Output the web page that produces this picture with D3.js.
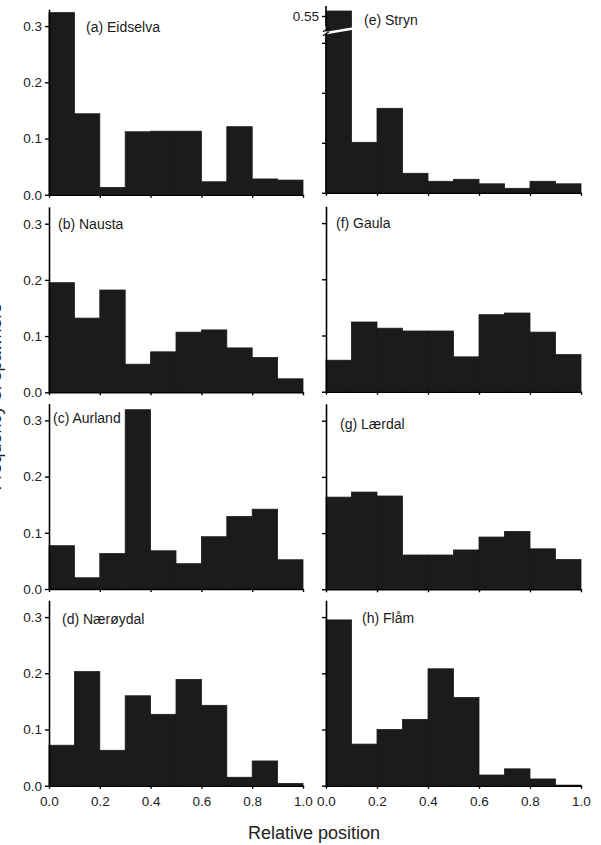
<!DOCTYPE html>
<html><head><meta charset="utf-8">
<script src="https://cdn.jsdelivr.net/npm/d3@7"></script>
<style>
html,body{margin:0;padding:0;background:#fff;}
svg{display:block;font-family:"Liberation Sans",Arial,sans-serif;}
</style></head>
<body>
<svg id="chart" width="601" height="845"></svg>
<script>
// ---- data ----
const binStarts = [0.0,0.1,0.2,0.3,0.4,0.5,0.6,0.7,0.8,0.9];
const binWidth = 0.1;
const panelNames = ["(a) Eidselva","(b) Nausta","(c) Aurland","(d) Nærøydal","(e) Stryn","(f) Gaula","(g) Lærdal","(h) Flåm"];
const eidselva  = [0.324,0.144,0.013,0.112,0.113,0.113,0.023,0.121,0.028,0.026];
const nausta    = [0.195,0.132,0.182,0.050,0.072,0.107,0.111,0.079,0.062,0.024];
const aurland   = [0.077,0.020,0.063,0.319,0.068,0.045,0.093,0.129,0.142,0.052];
const naeroydal = [0.072,0.203,0.063,0.160,0.127,0.189,0.143,0.015,0.044,0.004];
const stryn     = [0.56,0.101,0.169,0.039,0.023,0.027,0.018,0.009,0.023,0.018];
const gaula     = [0.056,0.124,0.113,0.108,0.108,0.062,0.137,0.140,0.106,0.066];
const laerdal   = [0.164,0.173,0.166,0.061,0.061,0.070,0.093,0.103,0.072,0.053];
const flam      = [0.295,0.074,0.100,0.118,0.208,0.157,0.019,0.030,0.012,0.001];
const seriesList = [eidselva,nausta,aurland,naeroydal,stryn,gaula,laerdal,flam];
const yTicks = [0.0,0.1,0.2,0.3];
const xTicks = [0.0,0.2,0.4,0.6,0.8,1.0];
const strynBreakTick = 0.55;
const xTitle = "Relative position";
const yTitle = "Frequency of spawners";

// ---- layout ----
const colX = [[49,303],[326,581]];
const rowBottom = [[194.7,392.3,589,785.7],[192.8,391.7,589.3,785.7]];
const unitPx = 562;
const yMax = 0.33;
const labelPos = [[86,31.7],[58,229],[53,423],[62,624],[364,25],[336,228],[340,429],[362,623]];
const barColor = "#1b1b1b";

const svg = d3.select("#chart");

function drawBars(g, vals, x, yOf, y0){
  g.selectAll("rect.bar").data(vals).enter().append("rect")
    .attr("class","bar")
    .attr("x",(d,i)=>x(binStarts[i]))
    .attr("width",(d,i)=>x(binStarts[i]+binWidth)-x(binStarts[i]))
    .attr("y",d=>yOf(d))
    .attr("height",d=>y0-yOf(d))
    .attr("fill",barColor)
    .attr("stroke",barColor).attr("stroke-width",0.8);
}

seriesList.forEach((vals, idx) => {
  const col = Math.floor(idx/4), row = idx%4;
  const [x0,x1] = colX[col];
  const bottom = rowBottom[col][row];
  const x = d3.scaleLinear().domain([0,1]).range([x0,x1]);
  const g = svg.append("g");
  const isStryn = idx === 4;

  if (!isStryn) {
    const y = d3.scaleLinear().domain([0,yMax]).range([bottom, bottom - yMax*unitPx]);
    drawBars(g, vals, x, d=>y(d), y(0));
    const ax = d3.axisLeft(y).tickValues(yTicks).tickSize(4).tickSizeOuter(0)
      .tickFormat(col===0 ? d3.format(".1f") : ()=> "");
    const ag = g.append("g").attr("transform",`translate(${x0},0)`).call(ax);
    styleAxis(ag);
  } else {
    // broken axis
    const yLow = d3.scaleLinear().domain([0,0.32]).range([bottom, bottom - 160]);
    const yUp = d3.scaleLinear().domain([0.526,0.57]).range([28, 6]);
    drawBars(g, vals, x, d=> d>0.32 ? yUp(d) : yLow(d), yLow(0));
    // white break band across the tall bar
    g.append("path")
      .attr("d",`M${x(0)-1},${yLow(0.32)+0.5} L${x(0.1)+1.5},${yUp(0.526)+0.5}`)
      .attr("stroke","#fff").attr("stroke-width",2.6).attr("fill","none");
    const axLow = d3.axisLeft(yLow).tickValues([0,0.1,0.2,0.3]).tickSize(4).tickSizeOuter(0).tickFormat(()=> "");
    const a1 = g.append("g").attr("transform",`translate(${x0},0)`).call(axLow);
    styleAxis(a1);
    a1.select(".domain").attr("d",`M0,${yLow(0)}V${yLow(0.318)}`);
    const axUp = d3.axisLeft(yUp).tickValues([strynBreakTick]).tickSize(4).tickSizeOuter(0).tickFormat(d3.format(".2f"));
    const a2 = g.append("g").attr("transform",`translate(${x0},0)`).call(axUp);
    styleAxis(a2);
    a2.select(".domain").attr("d",`M0,${yUp(0.529)}V${yUp(0.57)}`);
    // break marks
    [0,1].forEach(k=>{
      g.append("line")
        .attr("x1",x0-3).attr("x2",x0+3)
        .attr("y1",yLow(0.318)+2-k*4).attr("y2",yLow(0.318)-2-k*4)
        .attr("stroke","#000").attr("stroke-width",1.2);
    });
  }

  // x axis
  const xa = d3.axisBottom(x).tickValues(xTicks).tickSize(3).tickSizeOuter(0)
    .tickFormat(row===3 ? d3.format(".1f") : ()=> "");
  const xg = g.append("g").attr("transform",`translate(0,${bottom})`).call(xa);
  styleAxis(xg);
  xg.selectAll("text").attr("dy","1.05em").attr("y",6);

  g.append("text").attr("x",labelPos[idx][0]).attr("y",labelPos[idx][1])
    .attr("font-size","14px").attr("fill","#1a1a1a").text(panelNames[idx]);
});

function styleAxis(sel){
  sel.select(".domain").attr("stroke","#000").attr("stroke-width",1.6);
  sel.selectAll(".tick line").attr("stroke","#000").attr("stroke-width",1.4);
  sel.selectAll(".tick text").attr("font-size","13.5px").attr("fill","#222")
    .attr("font-family","'Liberation Sans',Arial,sans-serif");
}

svg.append("text").attr("x",314).attr("y",839).attr("text-anchor","middle")
  .attr("font-size","18px").attr("fill","#222").text(xTitle);
svg.append("text").attr("transform","translate(1,397) rotate(-90)").attr("text-anchor","middle")
  .attr("font-size","18px").attr("fill","#222").text(yTitle);
</script>
</body></html>
